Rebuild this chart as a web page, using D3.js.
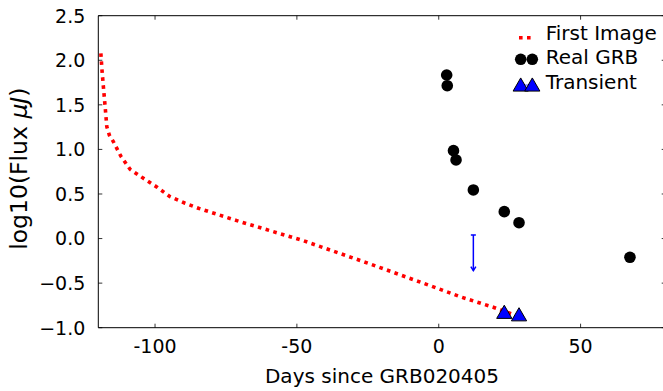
<!DOCTYPE html>
<html><head><meta charset="utf-8">
<script src="https://cdn.jsdelivr.net/npm/d3@7"></script>
<style>body{margin:0;background:#fff}svg{display:block;font-family:"DejaVu Sans",sans-serif}</style>
</head><body><svg id="c" width="663" height="391"></svg>
<script>
// data
const firstImageX = [-119.1,-118.7,-118.2,-117.7,-117.0,-116.1,-114.7,-112.1,-108.8,-104.1,-99.4,-94.7,-89.4,-84.7,-71.2,-47.7,-24.2,-3.1,7.5,19.2,26.0];
const firstImageY = [2.078,1.89,1.70,1.52,1.255,1.16,1.087,0.927,0.777,0.676,0.579,0.47,0.396,0.34,0.201,-0.024,-0.285,-0.528,-0.652,-0.77,-0.85];
const grbX = [2.8,3.0,5.2,6.1,12.2,23.1,28.3,67.4];
const grbY = [1.835,1.715,0.986,0.882,0.545,0.302,0.178,-0.21];
const transientX = [23.1,28.3];
const transientY = [-0.835,-0.863];
const limitX = [12.2];
const limitTop = [0.04];
const limitBottom = [-0.36];
const xTicks = [-100,-50,0,50];
const xTickLabels = ["-100","-50","0","50"];
const yTicks = [-1.0,-0.5,0.0,0.5,1.0,1.5,2.0,2.5];
const legendLabels = ["First Image","Real GRB","Transient"];

const svg = d3.select("#c");
const L=98.3, R=665.7, T=15.7, B=327.7;
const x = d3.scaleLinear().domain([-120,80]).range([L,R]);
const y = d3.scaleLinear().domain([-1,2.5]).range([B,T]);

// red dotted line
const line = d3.line().x(d=>x(d[0])).y(d=>y(d[1]));
svg.append("path").datum(firstImageX.map((v,i)=>[v,firstImageY[i]]))
  .attr("d",line).attr("fill","none").attr("stroke","#ff0000")
  .attr("stroke-width",3.6).attr("stroke-dasharray","3.6,4.4");

// upper limit
limitX.forEach((v,i)=>{
  const g = svg.append("g").attr("stroke","#0000ff").attr("stroke-width",1.5).attr("fill","none");
  g.append("line").attr("x1",x(v)).attr("x2",x(v)).attr("y1",y(limitTop[i])).attr("y2",y(limitBottom[i]));
  g.append("line").attr("x1",x(v)-2.5).attr("x2",x(v)+2.5).attr("y1",y(limitTop[i])).attr("y2",y(limitTop[i]));
  g.append("path").attr("d",`M${x(v)-2.5},${y(limitBottom[i])-4}L${x(v)},${y(limitBottom[i])}L${x(v)+2.5},${y(limitBottom[i])-4}`);
});

// circles
svg.append("g").selectAll("circle").data(grbX.map((v,i)=>[v,grbY[i]])).join("circle")
  .attr("cx",d=>x(d[0])).attr("cy",d=>y(d[1])).attr("r",5.8).attr("fill","#000");

// triangles
const tri = d3.symbol().type(d3.symbolTriangle).size(100);
svg.append("g").selectAll("path").data(transientX.map((v,i)=>[v,transientY[i]])).join("path")
  .attr("d",tri).attr("transform",d=>`translate(${x(d[0])},${y(d[1])+1})`)
  .attr("fill","#0000ff").attr("stroke","#000").attr("stroke-width",1);

// axes frame
const fr = svg.append("g").attr("stroke","#000").attr("stroke-width",1).attr("fill","none");
fr.append("line").attr("x1",L).attr("x2",L).attr("y1",T).attr("y2",B);
fr.append("line").attr("x1",R).attr("x2",R).attr("y1",T).attr("y2",B);
fr.append("line").attr("x1",L).attr("x2",R).attr("y1",T).attr("y2",T);
fr.append("line").attr("x1",L).attr("x2",R).attr("y1",B).attr("y2",B);

// ticks inward
const tk = svg.append("g").attr("stroke","#000").attr("stroke-width",0.8);
xTicks.forEach(t=>{
  tk.append("line").attr("x1",x(t)).attr("x2",x(t)).attr("y1",B).attr("y2",B-4);
  tk.append("line").attr("x1",x(t)).attr("x2",x(t)).attr("y1",T).attr("y2",T+4);
});
yTicks.forEach(t=>{
  tk.append("line").attr("x1",L).attr("x2",L+4).attr("y1",y(t)).attr("y2",y(t));
  tk.append("line").attr("x1",R).attr("x2",R-4).attr("y1",y(t)).attr("y2",y(t));
});

// tick labels
svg.append("g").selectAll("text").data(xTicks).join("text")
  .attr("x",d=>x(d)).attr("y",B+25).attr("text-anchor","middle")
  .attr("font-size",19).text((d,i)=>xTickLabels[i]);
svg.append("g").selectAll("text").data(yTicks).join("text")
  .attr("x",L-13).attr("y",d=>y(d)).attr("dy","0.36em").attr("text-anchor","end")
  .attr("font-size",19).text(d=>d3.format(".1f")(d).replace("-","\u2212"));

// axis labels
svg.append("text").attr("x",(L+R)/2).attr("y",383).attr("text-anchor","middle")
  .attr("font-size",20).text("Days since GRB020405");
const yl = svg.append("text").attr("transform",`translate(27,${(T+B)/2-3}) rotate(-90)`)
  .attr("text-anchor","middle").attr("font-size",23.5);
yl.append("tspan").text("log10(Flux ");
yl.append("tspan").attr("font-style","italic").text("\u03bcJ");
yl.append("tspan").text(")");

// legend
const lg = svg.append("g");
const ly = [40,64,89];
legendLabels.forEach((s,i)=>{
  lg.append("text").attr("x",545.7).attr("y",ly[i]).attr("font-size",20).text(s);
});
lg.append("line").attr("x1",519).attr("x2",534).attr("y1",37.7).attr("y2",37.7)
  .attr("stroke","#ff0000").attr("stroke-width",3.6).attr("stroke-dasharray","3.6,4.4");
[520.7,532.3].forEach(cx=>lg.append("circle").attr("cx",cx).attr("cy",59.3).attr("r",5.8).attr("fill","#000"));
lg.append("line").attr("x1",520.7).attr("x2",532.3).attr("y1",85).attr("y2",85).attr("stroke","#8888ff").attr("stroke-width",1.5);
[520.7,532.3].forEach(cx=>lg.append("path").attr("d",tri).attr("transform",`translate(${cx},${86.7})`)
  .attr("fill","#0000ff").attr("stroke","#000").attr("stroke-width",1));
</script></body></html>
